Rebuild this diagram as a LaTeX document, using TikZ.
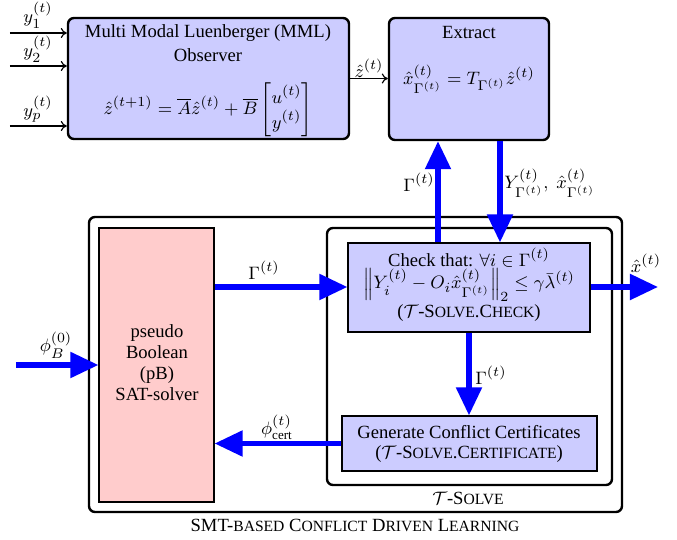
\documentclass[tikz,border=0pt]{standalone}
\usepackage{amsmath}
\usepackage{fontspec}
\setmainfont{Liberation Serif}
\usetikzlibrary{arrows.meta}
\newcommand{\smc}[1]{{\fontsize{7.8}{8}\selectfont #1}}
\begin{document}
\begin{tikzpicture}[x=0.5pt,y=-0.5pt,
  every node/.style={font=\fontsize{9.3}{11}\selectfont},
  bbox/.style={draw, line width=1.2pt, rounded corners=3pt, fill=blue!20, inner sep=0pt},
  frame/.style={draw, line width=1.2pt, rounded corners=3pt, inner sep=0pt},
  flatbox/.style={draw, line width=0.6pt, fill=blue!20, inner sep=0pt},
  pinkbox/.style={draw, line width=0.6pt, fill=red!20, inner sep=0pt},
  big/.style={blue, line width=2.6pt, -{Triangle[length=14pt,width=12.5pt]}},
  thin/.style={line width=0.6pt, -{To[length=3pt,width=5pt]}},
  txt/.style={inner sep=0pt, align=center}]
\useasboundingbox (0,0) rectangle (677,540);
% boxes
\node[bbox, minimum width=140.5pt, minimum height=60.5pt] (mml) at (208.5,78.5) {};
\node[bbox, minimum width=80pt, minimum height=61pt] (ext) at (469,79) {};
\node[frame, minimum width=266.5pt, minimum height=147.5pt] (outer) at (355.5,364.5) {};
\node[frame, minimum width=142.5pt, minimum height=128.5pt] (tsolve) at (469.5,356.5) {};
\node[flatbox, minimum width=121pt, minimum height=44.5pt] (check) at (469,287.5) {};
\node[flatbox, minimum width=127.5pt, minimum height=27.5pt] (gen) at (469.5,443.5) {};
\node[pinkbox, minimum width=57.5pt, minimum height=137pt] (sat) at (156.5,365) {};
% texts
\node[txt] (mmlt1) at (208,33) {Multi Modal Luenberger (MML)};
\node[txt] (mmlt2) at (208,55) {Observer};
\node[txt] (mmlf) at (208,110) {$\hat z^{(t+1)} = \overline{A}\hat z^{(t)} + \overline{B}\begin{bmatrix}u^{(t)}\\ y^{(t)}\end{bmatrix}$};
\node[txt] (extt) at (469,33) {Extract};
\node[txt] (extf) at (469,79) {$\hat x^{(t)}_{\Gamma^{(t)}} = T_{\Gamma^{(t)}}\hat z^{(t)}$};
\node[txt] (ck1) at (469,258) {Check that: $\forall i \in \Gamma^{(t)}$};
\node[txt] (ck2) at (469,285) {$\left\|Y_i^{(t)} - O_i\hat x^{(t)}_{\Gamma^{(t)}}\right\|_2 \le \gamma\bar\lambda^{(t)}$};
\node[txt] (ck3) at (469,313) {($\mathcal{T}$-S\smc{OLVE}.C\smc{HECK})};
\node[txt] (gn1) at (469,432) {Generate Conflict Certificates};
\node[txt] (gn2) at (469,454) {($\mathcal{T}$-S\smc{OLVE}.C\smc{ERTIFICATE})};
\node[txt] (satt) at (157,363) {pseudo\\[-0.5pt]Boolean\\[-0.5pt](pB)\\[-0.5pt]SAT-solver};
\node[txt] (tsl) at (468,498) {$\mathcal{T}$-S\smc{OLVE}};
\node[txt] (smtl) at (355,525) {SMT-\smc{BASED} C\smc{ONFLICT} D\smc{RIVEN} L\smc{EARNING}};
% inputs
\coordinate (in1) at (10,33);
\coordinate (in2) at (10,66);
\coordinate (inp) at (10,126);
\draw[thin] (in1) -- (in1 -| mml.west);
\draw[thin] (in2) -- (in2 -| mml.west);
\draw[thin] (inp) -- (inp -| mml.west);
\node[txt] (ly1) at (38,15) {$y_1^{(t)}$};
\node[txt] (ly2) at (38,49) {$y_2^{(t)}$};
\node[txt] (lyp) at (38,109) {$y_p^{(t)}$};
\draw[thin] (mml.east) -- (mml.east -| ext.west);
\node[txt] (lz) at (369,68) {$\hat z^{(t)}$};
% blue arrows
\coordinate (ux) at (438,0);
\coordinate (dx) at (500,0);
\draw[big] (ux |- check.north) -- (ux |- ext.south);
\draw[big] (dx |- ext.south) -- (dx |- check.north);
\node[txt] (lgu) at (419,182) {$\Gamma^{(t)}$};
\node[txt, anchor=west] (lyd) at (504,183) {$Y^{(t)}_{\Gamma^{(t)}},\ \hat x^{(t)}_{\Gamma^{(t)}}$};
\coordinate (gy) at (0,287);
\draw[big] (sat.east |- gy) -- (check.west |- gy);
\node[txt] (lgh) at (264,270) {$\Gamma^{(t)}$};
\coordinate (xo) at (658,287);
\draw[big] (check.east |- xo) -- (xo);
\node[txt] (lxo) at (646,263) {$\hat x^{(t)}$};
\draw[big] (check.south) -- (gen.north -| check.south);
\node[txt, anchor=west] (lgd) at (475,375) {$\Gamma^{(t)}$};
\draw[big] (gen.west) -- (gen.west -| sat.east);
\node[txt] (lpc) at (277,427) {$\phi^{(t)}_{\mathrm{cert}}$};
\coordinate (pb) at (16,365);
\draw[big] (pb) -- (sat.west);
\node[txt] (lpb) at (56,345) {$\phi^{(0)}_B$};
\end{tikzpicture}
\end{document}
